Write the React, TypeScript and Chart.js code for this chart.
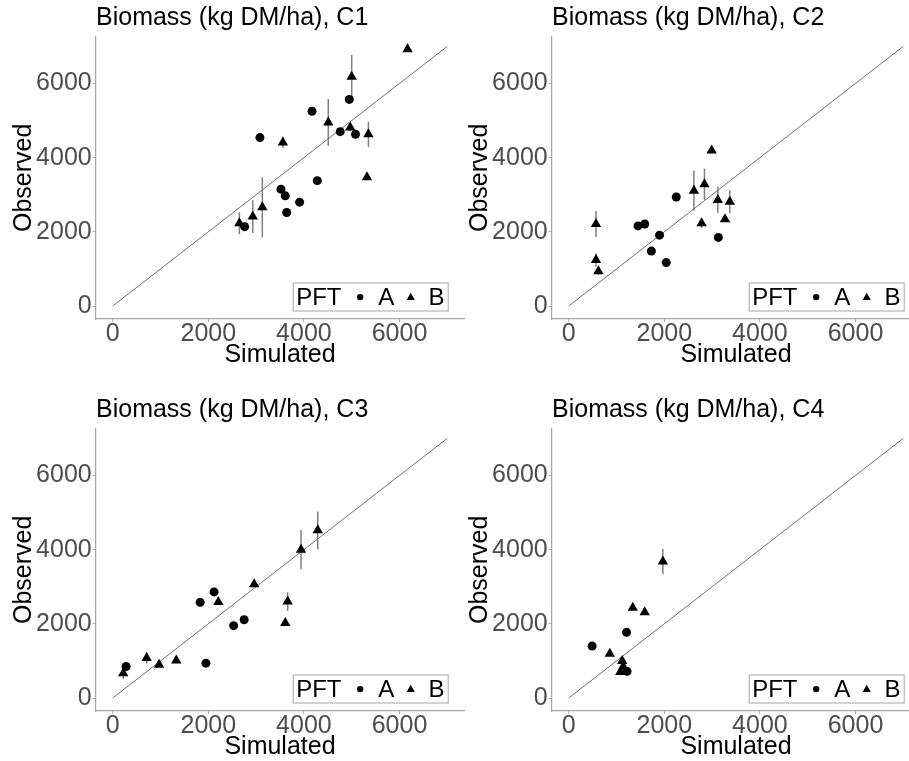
import React, { useEffect, useRef } from "react";
import { Chart, registerables } from "chart.js";

Chart.register(...registerables);

// ---------- data ----------
const panelNames = ["C1", "C2", "C3", "C4"];
const titlePrefix = "Biomass (kg DM/ha), ";
const xTicks = [0, 2000, 4000, 6000];
const yTicks = [0, 2000, 4000, 6000];
const oneToOne = [0, 7000];
const legendTitle = "PFT";
const pftLabels = ["A", "B"];

const c1A_sim = [3080, 4170, 4950, 4760, 5080, 4280, 3520, 3610, 3910, 3640, 2760];
const c1A_obs = [4540, 5250, 5570, 4700, 4630, 3380, 3150, 2970, 2800, 2520, 2140];
const c1B_sim = [6170, 5000, 4510, 3560, 4970, 5350, 5320, 3130, 2930, 2650];
const c1B_obs = [6920, 6180, 4950, 4410, 4810, 4630, 3470, 2660, 2410, 2230];
const c1B_err = [0, 590, 630, 150, 100, 340, 0, 810, 440, 290];

const c2A_sim = [2250, 1450, 1590, 1900, 1730, 2040, 3130];
const c2A_obs = [2940, 2160, 2210, 1910, 1480, 1170, 1850];
const c2B_sim = [2990, 2620, 2840, 3120, 3370, 2780, 3270, 570, 570, 620];
const c2B_obs = [4190, 3110, 3280, 2860, 2810, 2230, 2340, 2210, 1240, 940];
const c2B_err = [0, 540, 420, 350, 310, 130, 0, 350, 180, 100];

const c3A_sim = [280, 1830, 2120, 1950, 2530, 2750];
const c3A_obs = [850, 2580, 2860, 940, 1950, 2110];
const c3B_sim = [220, 710, 970, 1330, 2210, 2960, 3610, 3660, 3940, 4290];
const c3B_obs = [670, 1080, 900, 1010, 2590, 3070, 2020, 2600, 4000, 4520];
const c3B_err = [150, 150, 0, 0, 0, 0, 0, 250, 530, 510];

const c4A_sim = [490, 1210, 1220];
const c4A_obs = [1400, 1770, 720];
const c4B_sim = [1970, 1340, 1590, 860, 1120, 1140, 1080];
const c4B_obs = [3680, 2430, 2310, 1190, 1000, 850, 700];
const c4B_err = [340, 0, 0, 0, 0, 0, 0];

// ---------- styling ----------
const FONT = "'Liberation Sans', Arial, Helvetica, sans-serif";
const AXIS_GREY = "#a6a6a6";
const TICK_TEXT = "#4d4d4d";
const CANVAS_W = 470;
const CANVAS_H = 372;

type PanelData = {
  name: string;
  aSim: number[];
  aObs: number[];
  bSim: number[];
  bObs: number[];
  bErr: number[];
};

const panels: PanelData[] = [
  { name: panelNames[0], aSim: c1A_sim, aObs: c1A_obs, bSim: c1B_sim, bObs: c1B_obs, bErr: c1B_err },
  { name: panelNames[1], aSim: c2A_sim, aObs: c2A_obs, bSim: c2B_sim, bObs: c2B_obs, bErr: c2B_err },
  { name: panelNames[2], aSim: c3A_sim, aObs: c3A_obs, bSim: c3B_sim, bObs: c3B_obs, bErr: c3B_err },
  { name: panelNames[3], aSim: c4A_sim, aObs: c4A_obs, bSim: c4B_sim, bObs: c4B_obs, bErr: c4B_err },
];

const positions = [
  { left: 0, top: 0 },
  { left: 456, top: 0 },
  { left: 0, top: 392 },
  { left: 456, top: 392 },
];

function makeConfig(p: PanelData): any {
  const errorBarPlugin = {
    id: "errorBars",
    beforeDatasetsDraw(chart: any) {
      const { ctx, scales } = chart;
      const xs = scales.x;
      const ys = scales.y;
      ctx.save();
      ctx.strokeStyle = "#7f7f7f";
      ctx.lineWidth = 1.5;
      p.bSim.forEach((sx, i) => {
        const e = p.bErr[i];
        if (!e) return;
        const px = xs.getPixelForValue(sx);
        ctx.beginPath();
        ctx.moveTo(px, ys.getPixelForValue(p.bObs[i] - e));
        ctx.lineTo(px, ys.getPixelForValue(p.bObs[i] + e));
        ctx.stroke();
      });
      ctx.restore();
    },
  };

  const legendPlugin = {
    id: "insideLegend",
    afterDraw(chart: any) {
      const { ctx, chartArea } = chart;
      const left = chartArea.left + 196.7;
      const top = chartArea.bottom - 36.5;
      const w = 155;
      const h = 28;
      ctx.save();
      ctx.fillStyle = "#ffffff";
      ctx.fillRect(left, top, w, h);
      ctx.strokeStyle = AXIS_GREY;
      ctx.lineWidth = 1;
      ctx.strokeRect(left + 0.5, top + 0.5, w, h);
      ctx.fillStyle = "#000000";
      ctx.font = `24px ${FONT}`;
      ctx.textBaseline = "alphabetic";
      ctx.textAlign = "left";
      const base = top + 22.5;
      ctx.fillText(legendTitle, left + 3.5, base);
      ctx.beginPath();
      ctx.arc(left + 67.5, top + 14.6, 3.2, 0, Math.PI * 2);
      ctx.fill();
      ctx.fillText(pftLabels[0], left + 85.5, base);
      const cx = left + 118;
      const cy = top + 15;
      const r = 4.8;
      ctx.beginPath();
      ctx.moveTo(cx, cy - r);
      ctx.lineTo(cx + r * 0.866, cy + r / 2);
      ctx.lineTo(cx - r * 0.866, cy + r / 2);
      ctx.closePath();
      ctx.fill();
      ctx.fillText(pftLabels[1], left + 135.7, base);
      ctx.restore();
    },
  };

  const tickFont = { family: FONT, size: 25, lineHeight: 1 };
  const titleFont = { family: FONT, size: 25, lineHeight: 1.2 };

  return {
    type: "scatter",
    data: {
      datasets: [
        {
          label: pftLabels[0],
          data: p.aSim.map((x, i) => ({ x, y: p.aObs[i] })),
          pointStyle: "circle",
          pointRadius: 4.5,
          pointBackgroundColor: "#000",
          pointBorderWidth: 0,
          backgroundColor: "#000",
        },
        {
          label: pftLabels[1],
          data: p.bSim.map((x, i) => ({ x, y: p.bObs[i] })),
          pointStyle: "triangle",
          pointRadius: 6,
          pointBackgroundColor: "#000",
          pointBorderWidth: 0,
          backgroundColor: "#000",
        },
        {
          label: "1:1",
          data: oneToOne.map((v) => ({ x: v, y: v })),
          showLine: true,
          pointRadius: 0,
          borderColor: "#707070",
          borderWidth: 1,
        },
      ],
    },
    options: {
      responsive: false,
      animation: false,
      events: [],
      devicePixelRatio: 1,
      layout: { padding: { left: 0, right: 6, top: 0, bottom: 0 } },
      plugins: {
        legend: { display: false },
        tooltip: { enabled: false },
        title: {
          display: true,
          text: titlePrefix + p.name,
          align: "start",
          fullSize: false,
          color: "#000",
          font: { family: FONT, size: 25, weight: "normal", lineHeight: 1.2 },
          padding: { top: 3, bottom: 3.7 },
        },
      },
      scales: {
        x: {
          type: "linear",
          min: -350,
          max: 7350,
          afterBuildTicks: (s: any) => {
            s.ticks = xTicks.map((v) => ({ value: v }));
          },
          afterFit: (s: any) => {
            s.height = CANVAS_H - 319;
          },
          grid: { display: true, drawOnChartArea: false, drawTicks: true, tickLength: 3, color: AXIS_GREY, lineWidth: 1 },
          border: { display: true, color: AXIS_GREY, width: 1.2 },
          ticks: {
            color: TICK_TEXT,
            font: tickFont,
            padding: 0,
            maxRotation: 0,
            autoSkip: false,
            callback: (v: any) => String(v),
          },
          title: {
            display: true,
            text: "Simulated",
            color: "#000",
            font: titleFont,
            padding: { top: 0, bottom: 1.4 },
          },
        },
        y: {
          type: "linear",
          min: -350,
          max: 7260,
          afterBuildTicks: (s: any) => {
            s.ticks = yTicks.map((v) => ({ value: v }));
          },
          afterFit: (s: any) => {
            s.width = 96;
          },
          grid: { display: true, drawOnChartArea: false, drawTicks: true, tickLength: 3, color: AXIS_GREY, lineWidth: 1 },
          border: { display: true, color: AXIS_GREY, width: 1.2 },
          ticks: {
            color: TICK_TEXT,
            font: tickFont,
            padding: 1.3,
            autoSkip: false,
            callback: (v: any) => String(v),
          },
          title: {
            display: true,
            text: "Observed",
            color: "#000",
            font: titleFont,
            padding: { top: 9.6, bottom: 0 },
          },
        },
      },
    },
    plugins: [errorBarPlugin, legendPlugin],
  };
}

function Panel({ data, left, top }: { data: PanelData; left: number; top: number }) {
  const ref = useRef<HTMLCanvasElement | null>(null);
  useEffect(() => {
    if (!ref.current) return;
    const chart = new Chart(ref.current, makeConfig(data));
    return () => chart.destroy();
  }, [data]);
  return (
    <div style={{ position: "absolute", left, top, width: CANVAS_W, height: CANVAS_H }}>
      <canvas ref={ref} width={CANVAS_W} height={CANVAS_H} style={{ display: "block" }} />
    </div>
  );
}

export default function App() {
  return (
    <div
      style={{
        position: "absolute",
        left: 0,
        top: 0,
        width: 909,
        height: 761,
        overflow: "hidden",
        background: "#ffffff",
      }}
    >
      {panels.map((p, i) => (
        <Panel key={p.name} data={p} left={positions[i].left} top={positions[i].top} />
      ))}
    </div>
  );
}
